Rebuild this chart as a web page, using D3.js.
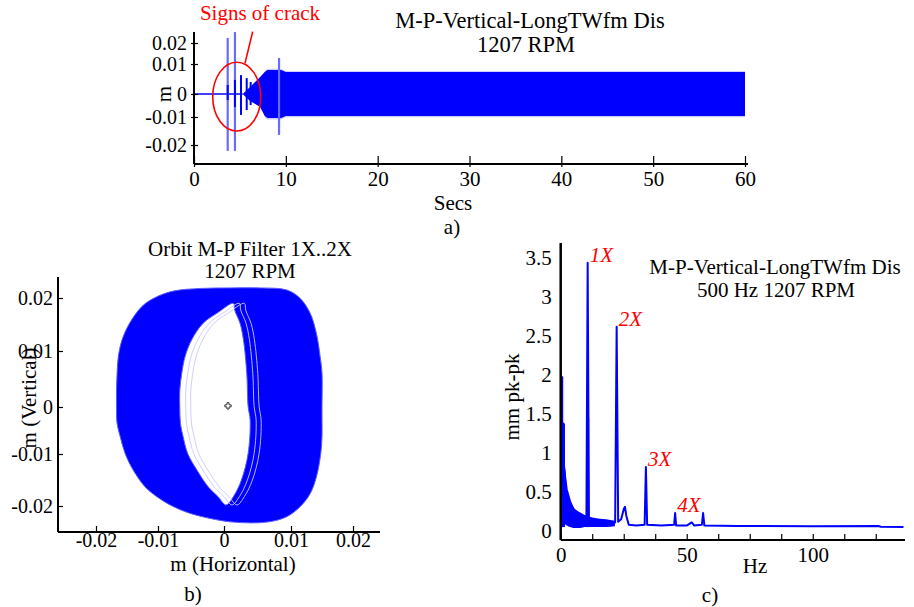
<!DOCTYPE html>
<html><head><meta charset="utf-8">
<script src="https://cdn.jsdelivr.net/npm/d3@7"></script>
<style>
body{margin:0;background:#fff}
svg{display:block}
text{font-family:"Liberation Serif","Times New Roman",serif;fill:#000}
</style>
</head><body>
<svg id="chart" width="914" height="607"></svg>
<script>
// ---------- Panel a : time waveform ----------
const aYTickValues = [0.02, 0.01, 0, -0.01, -0.02];
const aYTickLabels = ["0.02", "0.01", "0", "-0.01", "-0.02"];
const aXTickValues = [0, 10, 20, 30, 40, 50, 60];
const aEnvTime  = [5.3, 6.1, 7.2, 7.7, 8.0, 9.5, 10.0, 60];
const aEnvUpper = [0, 0.0023, 0.0057, 0.0073, 0.0080, 0.0080, 0.0073, 0.0073];
const aEnvLower = [0, -0.0030, -0.0057, -0.0096, -0.0104, -0.0104, -0.0096, -0.0096];
const aBaseTime = [0, 5.3];
const aTallSpikeTime = [3.67, 4.46, 9.26];
const aTallSpikeHigh = [0.0224, 0.0252, 0.0129];
const aTallSpikeLow  = [-0.0221, -0.0221, -0.0164];
const aSpikeTime = [3.67, 4.46, 5.12, 5.74, 6.17];
const aSpikeHigh = [0.0030, 0.0047, 0.0063, 0.0053, 0.0040];
const aSpikeLow  = [-0.0026, -0.0057, -0.0091, -0.0070, -0.0048];
const aCrackBox = {t0: 2.04, t1: 7.27, vTop: 0.0108, vBottom: -0.0150};
const aCrackLeader = [[5.55, 0.0103], [6.39, 0.0254]];

// ---------- Panel b : orbit ----------
const bTickValues = [-0.02, -0.01, 0, 0.01, 0.02];
const bTickLabels = ["-0.02", "-0.01", "0", "0.01", "0.02"];
const bOuterX = [-0.0077,-0.0106,-0.0126,-0.0146,-0.0158,-0.0164,-0.0166,-0.0167,-0.0167,-0.0166,-0.0161,-0.0153,-0.0140,-0.0121,-0.0102,-0.0077,-0.0052,-0.0021,0.0014,0.0064,0.0093,0.0115,0.0131,0.0141,0.0148,0.0150,0.0150,0.0150,0.0150,0.0147,0.0141,0.0131,0.0115,0.0094,0.0054,0.0009,-0.0036];
const bOuterY = [0.0213,0.0200,0.0184,0.0152,0.0121,0.0090,0.0060,0.0030,0.0001,-0.0035,-0.0063,-0.0099,-0.0131,-0.0163,-0.0182,-0.0201,-0.0214,-0.0224,-0.0231,-0.0231,-0.0221,-0.0201,-0.0176,-0.0144,-0.0099,-0.0063,-0.0028,0.0001,0.0060,0.0090,0.0133,0.0171,0.0199,0.0215,0.0219,0.0219,0.0218];
const bInnerX = [0.0014,-0.0011,-0.0032,-0.0049,-0.0059,-0.0064,-0.0067,-0.0067,-0.0066,-0.0062,-0.0055,-0.0041,-0.0024,-0.0009,0.0003,0.0014,0.0026,0.0036,0.0039,0.0036,0.0034,0.0029,0.0024,0.0016];
const bInnerY = [0.0190,0.0171,0.0152,0.0121,0.0090,0.0060,0.0030,0.0001,-0.0035,-0.0063,-0.0099,-0.0131,-0.0163,-0.0182,-0.0198,-0.0182,-0.0150,-0.0099,-0.0028,0.0001,0.0060,0.0121,0.0152,0.0177];
const bCenter = [0.0006, 0.0002];

// ---------- Panel c : spectrum ----------
const cYTickValues = [0, 0.5, 1, 1.5, 2, 2.5, 3, 3.5];
const cYTickLabels = ["0", "0.5", "1", "1.5", "2", "2.5", "3", "3.5"];
const cXTickValues = [0, 12.5, 25, 37.5, 50, 62.5, 75, 87.5, 100, 112.5, 125];
const cXTickLabels = ["0", "", "", "", "50", "", "", "", "100", "", ""];
const cSpecHz  = [0.1, 0.3, 0.6, 0.9, 1.2, 1.5, 2.4, 3.7, 5.0, 7.6, 10.2, 10.7, 11.2, 14, 18, 21.6, 22.2, 22.8, 24, 25, 25.5, 26, 27, 30, 33.3, 33.8, 34.3, 40, 45, 45.4, 45.8, 50, 52, 53, 56, 56.5, 57, 70, 100, 126, 127, 136];
const cSpecVal = [0.3, 1.98, 1.2, 1.38, 0.9, 0.75, 0.53, 0.38, 0.28, 0.20, 0.16, 3.44, 0.15, 0.12, 0.11, 0.11, 2.62, 0.12, 0.15, 0.28, 0.31, 0.20, 0.08, 0.07, 0.08, 0.82, 0.08, 0.07, 0.08, 0.23, 0.07, 0.07, 0.11, 0.07, 0.08, 0.23, 0.07, 0.065, 0.06, 0.065, 0.055, 0.05];
const cNoiseHz    = [0.6, 1.3, 2.0, 2.4, 3.7, 5.0, 7.6, 10.0, 13, 18, 21.5];
const cNoiseUpper = [1.4, 0.9, 0.74, 0.53, 0.40, 0.31, 0.24, 0.20, 0.17, 0.15, 0.13];
const cNoiseLower = [0.10, 0.09, 0.08, 0.07, 0.05, 0.04, 0.04, 0.05, 0.05, 0.05, 0.06];
const cBaseHz  = [0.4, 1.1, 10.7];
const cBaseVal = [1.98, 1.38, 1.45];
const cHarmHz    = [10.7, 22.2, 33.8, 45.4];
const cHarmVal   = [3.44, 2.62, 0.82, 0.23];
const cHarmLabel = ["1X", "2X", "3X", "4X"];

const BLUE = "#0000ff";
const svg = d3.select("#chart");

function txt(g, x, y, s, opts = {}) {
  const t = g.append("text").attr("x", x).attr("y", y).text(s)
    .attr("font-size", opts.size || 21)
    .attr("text-anchor", opts.anchor || "middle");
  if (opts.fill) t.style("fill", opts.fill);
  if (opts.italic) t.attr("font-style", "italic");
  if (opts.rotate) t.attr("transform", `rotate(-90,${x},${y})`);
  return t;
}
function styleTicks(sel, size) {
  sel.attr("font-size", size).attr("font-family", "Liberation Serif");
}

// ===== Panel a =====
{
  const g = svg.append("g");
  const x = d3.scaleLinear().domain([0, 60]).range([194, 745]);
  const y = d3.scaleLinear().domain([-0.02, -0.01, 0, 0.01, 0.02]).range([145, 117, 94, 64, 43]);
  const axisY = 164, axisTop = 32;

  g.append("line").attr("x1", x(aBaseTime[0])).attr("x2", x(aBaseTime[1]))
    .attr("y1", y(0)).attr("y2", y(0)).attr("stroke", BLUE).attr("stroke-width", 1.5);

  const env = aEnvTime.map((t, i) => ({t, u: aEnvUpper[i], l: aEnvLower[i]}));
  g.append("path").datum(env.slice(3))
    .attr("d", d3.area().x(d => x(d.t)).y0(d => y(d.l - 0.0005)).y1(d => y(d.u + 0.0004)))
    .attr("fill", "#8f8fff").attr("opacity", 0.45);
  g.append("path").datum(env)
    .attr("d", d3.area().x(d => x(d.t)).y0(d => y(d.l)).y1(d => y(d.u)))
    .attr("fill", BLUE);

  aTallSpikeTime.forEach((t, i) => {
    g.append("line").attr("x1", x(t)).attr("x2", x(t))
      .attr("y1", y(aTallSpikeHigh[i])).attr("y2", y(aTallSpikeLow[i]))
      .attr("stroke", "#6a6aff").attr("stroke-width", 2.2);
  });
  aSpikeTime.forEach((t, i) => {
    g.append("line").attr("x1", x(t)).attr("x2", x(t))
      .attr("y1", y(aSpikeHigh[i])).attr("y2", y(aSpikeLow[i]))
      .attr("stroke", BLUE).attr("stroke-width", 2);
  });

  const ya = g.append("g").attr("transform", `translate(${x(0)},0)`)
    .call(d3.axisLeft(y).tickValues(aYTickValues).tickFormat((d, i) => aYTickLabels[i]));
  ya.select(".domain").remove();
  ya.selectAll("line").attr("x1", -3).attr("x2", 4).attr("stroke-width", 1.2);
  styleTicks(ya.selectAll("text").attr("x", -7), 20);
  g.append("line").attr("x1", x(0)).attr("x2", x(0)).attr("y1", axisTop).attr("y2", axisY)
    .attr("stroke", "#000").attr("stroke-width", 2);

  const xa = g.append("g").attr("transform", `translate(0,${axisY})`)
    .call(d3.axisBottom(x).tickValues(aXTickValues).tickFormat(d3.format("d")));
  xa.select(".domain").remove();
  xa.selectAll("line").attr("y1", 3).attr("y2", -8).attr("stroke-width", 1.2);
  styleTicks(xa.selectAll("text").attr("y", 22).attr("dy", 0), 21);
  g.append("line").attr("x1", x(0)).attr("x2", 748).attr("y1", axisY).attr("y2", axisY)
    .attr("stroke", "#000").attr("stroke-width", 2);

  txt(g, 171, 94, "m", {rotate: true});
  txt(g, 453, 210, "Secs");
  txt(g, 452, 234, "a)");
  txt(g, 530, 28, "M-P-Vertical-LongTWfm Dis", {size: 22.5});
  txt(g, 526, 52, "1207 RPM", {size: 22.5});

  const cb = aCrackBox;
  g.append("ellipse")
    .attr("cx", (x(cb.t0) + x(cb.t1)) / 2).attr("cy", (y(cb.vTop) + y(cb.vBottom)) / 2)
    .attr("rx", (x(cb.t1) - x(cb.t0)) / 2).attr("ry", (y(cb.vBottom) - y(cb.vTop)) / 2)
    .attr("fill", "none").attr("stroke", "#ff0000").attr("stroke-width", 1.6);
  g.append("line")
    .attr("x1", x(aCrackLeader[0][0])).attr("y1", y(aCrackLeader[0][1]))
    .attr("x2", x(aCrackLeader[1][0])).attr("y2", y(aCrackLeader[1][1]))
    .attr("stroke", "#ff0000").attr("stroke-width", 1.6);
  txt(g, 260, 20, "Signs of crack", {fill: "#ff0000"});
}

// ===== Panel b =====
{
  const g = svg.append("g");
  const x = d3.scaleLinear().domain([-0.02, -0.01, 0, 0.01, 0.02]).range([96, 158, 224, 291, 353]);
  const y = d3.scaleLinear().domain([0.02, 0.01, 0, -0.01, -0.02]).range([298, 351, 407, 454, 506]);
  const axX = 58, axY = 532;

  const outer = bOuterX.map((v, i) => [v, bOuterY[i]]);
  const inner = bInnerX.map((v, i) => [v, bInnerY[i]]);
  const line = d3.line().x(d => x(d[0])).y(d => y(d[1])).curve(d3.curveCatmullRomClosed.alpha(0.5));
  g.append("path").attr("d", line(outer) + line(inner))
    .attr("fill", BLUE).attr("fill-rule", "evenodd")
    .attr("stroke", "#5a5aff").attr("stroke-width", 1);
  [6, 11].forEach(dx => {
    g.append("path").attr("d", line(inner)).attr("transform", `translate(${dx},0)`)
      .attr("fill", "none").attr("stroke", "#c8c8ff").attr("stroke-width", 0.9);
  });

  g.append("path").attr("d", d3.symbol(d3.symbolCross, 22)())
    .attr("transform", `translate(${x(bCenter[0])},${y(bCenter[1])})`)
    .attr("fill", "none").attr("stroke", "#333").attr("stroke-width", 1);

  const ya = g.append("g").attr("transform", `translate(${axX},0)`)
    .call(d3.axisLeft(y).tickValues(bTickValues).tickFormat((d, i) => bTickLabels[i]));
  ya.select(".domain").remove();
  ya.selectAll("line").attr("x1", 0).attr("x2", 5).attr("stroke-width", 1.2);
  styleTicks(ya.selectAll("text").attr("x", -5), 20);
  g.append("line").attr("x1", axX).attr("x2", axX).attr("y1", 277).attr("y2", axY)
    .attr("stroke", "#000").attr("stroke-width", 2);

  const xa = g.append("g").attr("transform", `translate(0,${axY})`)
    .call(d3.axisBottom(x).tickValues(bTickValues).tickFormat((d, i) => bTickLabels[i]));
  xa.select(".domain").remove();
  xa.selectAll("line").attr("y1", 0).attr("y2", -6).attr("stroke-width", 1.2);
  styleTicks(xa.selectAll("text").attr("y", 15).attr("dy", 0), 20);
  g.append("line").attr("x1", axX).attr("x2", 380).attr("y1", axY).attr("y2", axY)
    .attr("stroke", "#000").attr("stroke-width", 2);

  txt(g, 250, 256, "Orbit M-P Filter 1X..2X");
  txt(g, 250, 278, "1207 RPM");
  txt(g, 233, 571, "m (Horizontal)");
  txt(g, 193, 601, "b)");
  txt(g, 36, 398, "m (Vertical)", {rotate: true});
}

// ===== Panel c =====
{
  const g = svg.append("g");
  const x = d3.scaleLinear().domain([0, 136.6]).range([560.7, 905]);
  const y = d3.scaleLinear().domain([0, 3.5]).range([531, 258]);
  const axY = 540;

  const noise = cNoiseHz.map((h, i) => ({h, u: cNoiseUpper[i], l: cNoiseLower[i]}));
  g.append("path").datum(noise)
    .attr("d", d3.area().x(d => x(d.h)).y0(d => y(d.l)).y1(d => y(d.u)).curve(d3.curveMonotoneX))
    .attr("fill", BLUE);
  const spec = cSpecHz.map((h, i) => [h, cSpecVal[i]]);
  g.append("path").datum(spec)
    .attr("d", d3.line().x(d => x(d[0])).y(d => y(d[1])))
    .attr("fill", "none").attr("stroke", BLUE).attr("stroke-width", 2).attr("stroke-linejoin", "round");
  cBaseHz.forEach((h, i) => {
    g.append("line").attr("x1", x(h)).attr("x2", x(h)).attr("y1", y(cBaseVal[i])).attr("y2", y(0.05))
      .attr("stroke", BLUE).attr("stroke-width", 3);
  });

  cHarmHz.forEach((h, i) => {
    txt(g, x(h) + 2, y(cHarmVal[i]) - 1, cHarmLabel[i], {anchor: "start", italic: true, fill: "#ff0000"});
  });

  const ya = g.append("g").attr("transform", `translate(${x(0)},0)`)
    .call(d3.axisLeft(y).tickValues(cYTickValues).tickSize(0).tickFormat((d, i) => cYTickLabels[i]));
  ya.select(".domain").remove();
  styleTicks(ya.selectAll("text").attr("x", -9), 21);
  g.append("line").attr("x1", x(0)).attr("x2", x(0)).attr("y1", 243).attr("y2", axY)
    .attr("stroke", "#000").attr("stroke-width", 2.5);

  const xa = g.append("g").attr("transform", `translate(0,${axY})`)
    .call(d3.axisBottom(x).tickValues(cXTickValues).tickFormat((d, i) => cXTickLabels[i]));
  xa.select(".domain").remove();
  xa.selectAll("line").attr("y1", 0).attr("y2", -6).attr("stroke-width", 1.2);
  styleTicks(xa.selectAll("text").attr("y", 22).attr("dy", 0), 21);
  g.append("line").attr("x1", x(0)).attr("x2", 905).attr("y1", axY).attr("y2", axY)
    .attr("stroke", "#000").attr("stroke-width", 2);

  txt(g, 775, 274, "M-P-Vertical-LongTWfm Dis");
  txt(g, 776, 297, "500 Hz 1207 RPM");
  txt(g, 755, 573, "Hz");
  txt(g, 710, 602, "c)");
  txt(g, 519, 397, "mm pk-pk", {rotate: true});
}
</script>
</body></html>
